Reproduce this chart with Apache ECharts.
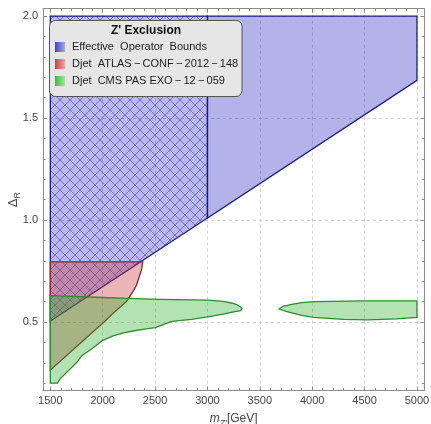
<!DOCTYPE html>
<html><head><meta charset="utf-8">
<script src="https://cdn.jsdelivr.net/npm/echarts@6/dist/echarts.min.js"></script>
<style>html,body{margin:0;padding:0;background:#fff}#c{width:431px;height:424px}</style>
</head><body><div id="c"></div>
<script>
// ---- tick labels ----
const xMajor = [1500, 2000, 2500, 3000, 3500, 4000, 4500, 5000];
const yMajor = [0.5, 1.0, 1.5, 2.0];
const xMinor = []; for (let v = 1500; v <= 5000; v += 100) if (v % 500) xMinor.push(v);
const yMinor = []; for (let k = 2; k <= 20; k++) if (k % 5) yMinor.push(k / 10);

// ---- data (m_Z' in GeV, Delta_R) ----
const effHatchM = [1500, 3000, 3000, 1500];
const effHatchD = [2.0, 2.0, 1.01, 0.505];
const effSolidM = [3000, 5000, 5000, 3000];
const effSolidD = [2.0, 2.0, 1.685, 1.01];

const atlasM = [1500, 2382, 2372, 2354, 2322, 2295, 2262, 2227, 2200, 2100, 2000, 1900, 1800, 1700, 1600, 1500];
const atlasD = [0.795, 0.795, 0.76, 0.73, 0.68, 0.655, 0.628, 0.600, 0.588, 0.543, 0.494, 0.448, 0.402, 0.356, 0.31, 0.265];

const cmsLowM = [1500, 2000, 2230, 2550, 3000, 3100, 3160, 3230, 3280, 3315, 3332,
                 3316, 3250, 3150, 3000, 2850, 2700, 2646, 2502, 2400, 2300, 2200, 2100, 2000, 1900, 1800, 1760, 1700, 1650, 1600, 1566, 1500];
const cmsLowD = [0.629, 0.620, 0.616, 0.611, 0.607, 0.603, 0.600, 0.593, 0.585, 0.575, 0.566,
                 0.556, 0.549, 0.538, 0.525, 0.513, 0.505, 0.500, 0.472, 0.465, 0.457, 0.447, 0.432, 0.410, 0.370, 0.335, 0.306, 0.275, 0.250, 0.225, 0.200, 0.200];

const cmsHighM = [3683, 3720, 3816, 3900, 4018, 4500, 5000, 5000, 4800, 4530, 4300, 4015, 3900, 3816, 3750, 3683];
const cmsHighD = [0.564, 0.577, 0.588, 0.595, 0.600, 0.603, 0.603, 0.523, 0.515, 0.510, 0.513, 0.523, 0.532, 0.543, 0.552, 0.564];

// ---- hatch pattern ----
const pc = document.createElement('canvas'); pc.width = 10; pc.height = 10;
const g = pc.getContext('2d');
g.strokeStyle = 'rgba(80,80,205,0.7)'; g.lineWidth = 1;
g.beginPath(); g.moveTo(-1, -1); g.lineTo(11, 11); g.moveTo(11, -1); g.lineTo(-1, 11); g.stroke();

function poly(ms, ds, fill, stroke, pattern) {
  const data = ms.map((m, i) => [m, ds[i]]);
  return {
    type: 'custom', coordinateSystem: 'cartesian2d', xAxisIndex: 0, yAxisIndex: 0,
    clip: true, silent: true, data: data,
    renderItem: function (params, api) {
      if (params.dataIndex !== 0) return null;
      const pts = data.map(p => api.coord(p));
      const ch = [{ type: 'polygon', shape: { points: pts }, style: { fill: fill } }];
      if (pattern) ch.push({ type: 'polygon', shape: { points: pts }, style: { fill: { image: pattern, repeat: 'repeat' } } });
      ch.push({ type: 'polygon', shape: { points: pts }, style: { fill: 'none', stroke: stroke, lineWidth: 1.3 } });
      return { type: 'group', children: ch };
    }
  };
}

const font = '"Liberation Sans", Arial, sans-serif';
const frame = '#8a8a8a';
function xAx(pos, vals, len, main) {
  return {
    type: 'value', position: pos, min: 1430, max: 5070,
    axisLine: { show: main, onZero: false, lineStyle: { color: frame, width: 1 } },
    axisTick: { show: true, inside: true, length: len, customValues: vals, lineStyle: { color: frame } },
    axisLabel: { show: main && pos === 'bottom', customValues: vals, color: '#444', fontSize: 11, fontFamily: font, margin: 5,
      formatter: v => String(v) },
    splitLine: { show: main && pos === 'bottom', lineStyle: { color: '#cfcfcf', type: [3, 3] } },
    name: (main && pos === 'bottom') ? '{i|m}{s|Z\u2032}{n|[GeV]}' : '',
    nameLocation: 'middle', nameGap: 19, nameMoveOverlap: false,
    nameTextStyle: { color: '#444', fontFamily: font, verticalAlign: 'top', rich: {
      i: { fontSize: 12, fontStyle: 'italic', lineHeight: 18, fontFamily: font, color: '#444' },
      s: { fontSize: 9, fontStyle: 'italic', verticalAlign: 'bottom', fontFamily: font, color: '#444' },
      n: { fontSize: 12, lineHeight: 18, fontFamily: font, color: '#444' } } }
  };
}
function yAx(pos, vals, len, main) {
  return {
    type: 'value', position: pos, min: 0.164, max: 2.036,
    axisLine: { show: main, onZero: false, lineStyle: { color: frame, width: 1 } },
    axisTick: { show: true, inside: true, length: len, customValues: vals, lineStyle: { color: frame } },
    axisLabel: { show: main && pos === 'left', customValues: vals, color: '#444', fontSize: 11, fontFamily: font, margin: 5,
      formatter: v => v.toFixed(1) },
    splitLine: { show: main && pos === 'left', lineStyle: { color: '#cfcfcf', type: [3, 3] } },
    name: (main && pos === 'left') ? '{i|\u0394}{s|R}' : '',
    nameLocation: 'middle', nameGap: 30, nameRotate: 90, nameMoveOverlap: false,
    nameTextStyle: { color: '#444', fontFamily: font, verticalAlign: 'middle', rich: {
      i: { fontSize: 13, lineHeight: 18, fontFamily: font, color: '#444' },
      s: { fontSize: 9, verticalAlign: 'bottom', fontFamily: font, color: '#444' } } }
  };
}

const legendItems = [
  { t: 'Effective  Operator  Bounds', c0: '#4545c8', c1: '#a8a8e8' },
  { t: 'Djet  ATLAS\u2009\u2212\u2009CONF\u2009\u2212\u20092012\u2009\u2212\u2009148', c0: '#c84545', c1: '#e8a8a8' },
  { t: 'Djet  CMS PAS EXO\u2009\u2212\u200912\u2009\u2212\u2009059', c0: '#45b845', c1: '#a8e0a8' }
];
const graphic = [
  { type: 'rect', shape: { x: 49.5, y: 20.5, width: 192.5, height: 76, r: 6 }, style: { fill: '#e6e6e6', stroke: '#555', lineWidth: 1 }, z: 100 },
  { type: 'text', x: 146, y: 31, style: { text: "Z' Exclusion", font: 'bold 12px ' + font, fill: '#111', align: 'center', verticalAlign: 'middle' }, z: 101 }
];
legendItems.forEach((it, i) => {
  const cy = 47 + i * 17;
  graphic.push({ type: 'rect', shape: { x: 55, y: cy - 5, width: 10, height: 10 }, z: 101,
    style: { fill: new echarts.graphic.LinearGradient(0, 0, 1, 0, [{ offset: 0, color: it.c0 }, { offset: 1, color: it.c1 }]) } });
  graphic.push({ type: 'text', x: 72, y: cy, z: 101, style: { text: it.t, font: '11px ' + font, fill: '#222', align: 'left', verticalAlign: 'middle' } });
});

const chart = echarts.init(document.getElementById('c'), null, { renderer: 'canvas' });
chart.setOption({
  animation: false,
  backgroundColor: '#fff',
  grid: { left: 43, right: 6.7, top: 8.7, bottom: 33.5, containLabel: false, outerBoundsMode: 'none' },
  xAxis: [xAx('bottom', xMajor, 4, true), xAx('bottom', xMinor, 2.5, false), xAx('top', xMajor, 4, true), xAx('top', xMinor, 2.5, false)],
  yAxis: [yAx('left', yMajor, 4, true), yAx('left', yMinor, 2.5, false), yAx('right', yMajor, 4, true), yAx('right', yMinor, 2.5, false)],
  series: [
    poly(effHatchM, effHatchD, 'rgba(60,60,200,0.36)', '#1c1c85', pc),
    poly(effSolidM, effSolidD, 'rgba(60,60,200,0.39)', '#1c1c85', null),
    poly(atlasM, atlasD, 'rgba(200,50,50,0.36)', '#8a2a2a', null),
    poly(cmsLowM, cmsLowD, 'rgba(50,180,50,0.37)', '#2e8b2e', null),
    poly(cmsHighM, cmsHighD, 'rgba(50,180,50,0.37)', '#2e8b2e', null)
  ],
  graphic: graphic
});
</script></body></html>
